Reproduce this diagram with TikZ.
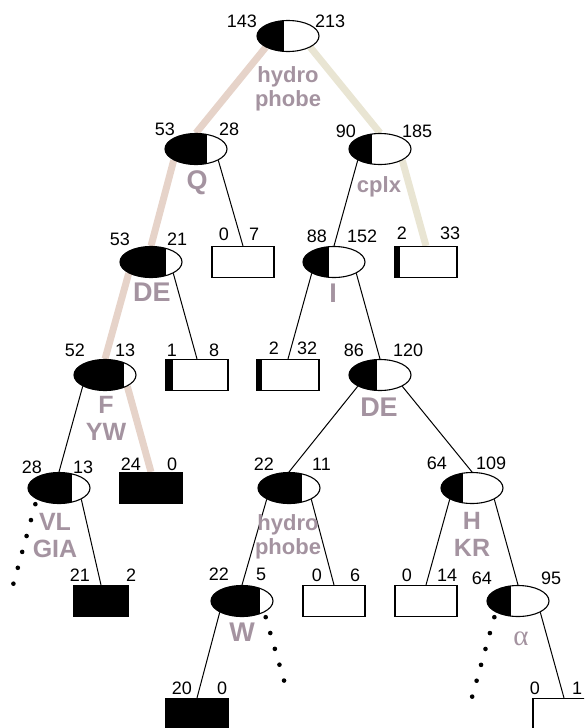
\documentclass[tikz,border=0pt]{standalone}
\usepackage{fontspec}
\setmainfont{Liberation Sans}
\newfontfamily\alphafont{Liberation Serif}
\usetikzlibrary{shapes,calc,backgrounds}
\definecolor{tagc}{RGB}{164,147,160}
\definecolor{hotl}{RGB}{230,211,201}
\definecolor{hotr}{RGB}{233,229,211}

\begin{document}
\begin{tikzpicture}[
            x=1pt, y=-1pt,
                blk/.style = {path picture={% black share of a split
                              \fill[black] (path picture bounding box.south west) rectangle
                              ($(path picture bounding box.north west)!#1!(path picture bounding box.north east)$);}},
              split/.style = {ellipse, draw, line width=1.1pt, fill=white, inner sep=0pt,
                              minimum width=62pt, minimum height=31pt, blk=#1},
               leaf/.style = {rectangle, draw, line width=1.1pt, fill=white, inner sep=0pt,
                              minimum width=62pt, minimum height=31pt, blk=#1},
               leaf/.default=0,
                cnt/.style = {font=\fontsize{18}{20}\selectfont, inner sep=0pt},
                tag/.style = {font=\bfseries\fontsize{27}{28}\selectfont, text=tagc,
                              align=center, inner sep=0pt},
               tag2/.style = {tag, font=\bfseries\fontsize{25}{27}\selectfont},
              tagsm/.style = {tag, font=\bfseries\fontsize{22}{24}\selectfont},
               link/.style = {line width=1pt},
                hot/.style = {line width=7pt, #1},
              trail/.style = {line width=4.6pt, line cap=round,
                              dash pattern=on 0pt off 16.5pt, dash phase=11.5pt},
                ]
\useasboundingbox (0,0) rectangle (584,728);
\clip (0,0) rectangle (584,728);
% splits
\node[split=.435] (root) at (288,36)  {};
\node[split=.68]  (q)    at (196,149) {};
\node[split=.37]  (cplx) at (380,149) {};
\node[split=.74]  (de1)  at (151,262) {};
\node[split=.42]  (i1)   at (334,262) {};
\node[split=.81]  (f1)   at (105,375) {};
\node[split=.45]  (de2)  at (380,375) {};
\node[split=.71]  (vl)   at (59,488)  {};
\node[split=.71]  (hy2)  at (289,488) {};
\node[split=.355] (hkr)  at (472,488) {};
\node[split=.79]  (w)    at (242,601) {};
\node[split=.39]  (al)   at (518,601) {};
% leaves
\node[leaf]      (b07)  at (243,262) {};
\node[leaf=.08]  (b233) at (426,262) {};
\node[leaf=.11]  (b18)  at (197,375) {};
\node[leaf=.08]  (b232) at (288,375) {};
\node[leaf=1]    (b240) at (151,488) {};
\node[leaf=1, minimum width=54pt] (b212) at (101,601) {};
\node[leaf]      (b06)  at (334,601) {};
\node[leaf]      (b014) at (426,601) {};
\node[leaf=1]    (b200) at (197,714) {};
\node[leaf]      (b01)  at (564,714) {};
% counts above each node
\foreach \n/\l/\dl/\r/\dr/\dy in {root/143/-31/213/27/8, q/53/-21/28/23/3,
        cplx/90/-24/185/22/5, de1/53/-21/21/16/0, b07/0/-14/7/6/-5,
        i1/88/-7/152/13/-3, b233/2/-19/33/14/-6, f1/52/-20/13/10/-2,
        b18/1/-20/8/12/-2, b232/2/-9/32/9/-4, de2/86/-16/120/13/-2,
        vl/28/-17/13/14/2, b240/24/-10/0/16/-1, hy2/22/-15/11/23/-1,
        hkr/64/-25/109/4/-2, b212/21/-11/2/25/-3, w/22/-13/5/14/-4,
        b06/0/-12/6/16/-3, b014/0/-14/14/11/-3, al/64/-26/95/23/0,
        b200/20/-5/0/20/-3, b01/0/-24/1/8/-3}
    {
    \node[cnt, anchor=base east] (\n-l) at ($(\n.north)+(\dl,\dy)$) {\l};
    \node[cnt, anchor=base west] (\n-r) at ($(\n.north)+(\dr,\dy)$) {\r};
    }
% split labels
\node[tagsm] (t-root) at (288,88.5)  {hydro\\phobe};
\node[tag]   (t-q)    at (197,182.5) {Q};
\node[tagsm] (t-cplx) at (379,187)   {cplx};
\node[tag]   (t-de1)  at (152,292)   {DE};
\node[tag]   (t-i1)   at (333,293.5) {I};
\node[tag2]  (t-f1)   at (106,418)   {F\\YW};
\node[tag]   (t-de2)  at (379,407.5) {DE};
\node[tag2]  (t-vl)   at (55,535.5)  {VL\\GIA};
\node[tagsm] (t-hy2)  at (288,537)   {hydro\\phobe};
\node[tag2]  (t-hkr)  at (472,534)   {H\\KR};
\node[tag]   (t-w)    at (242,632)   {W};
\node[tag, font=\alphafont\fontsize{29}{29}\selectfont] (t-al) at (521,639) {α};
% open ends
\coordinate (vl-x) at ($(vl.south west)+(-24,87)$);
\coordinate (w-x)  at ($(w.south east)+(24,83)$);
\coordinate (al-x) at ($(al.south west)+(-24,86)$);
\begin{scope}[on background layer]
\draw[hot=hotl] (root.south west) -- (q.north)
                (q.south west) -- (de1.north)
                (de1.south west) -- (f1.north)
                (f1.south east) -- (b240.north);
\draw[hot=hotr] (root.south east) -- (cplx.north)
                (cplx.south east) -- (b233.north);
\draw[link] (q.south east) -- (b07.north);
\draw[link] (cplx.south west) -- (i1.north);
\draw[link] (de1.south east) -- (b18.north);
\draw[link] (i1.south west) -- (b232.north);
\draw[link] (i1.south east) -- (de2.north);
\draw[link] (f1.south west) -- (vl.north);
\draw[link] (de2.south west) -- (hy2.north);
\draw[link] (de2.south east) -- (hkr.north);
\draw[link] (vl.south east) -- (b212.north);
\draw[link] (hy2.south west) -- (w.north);
\draw[link] (hy2.south east) -- (b06.north);
\draw[link] (hkr.south west) -- (b014.north);
\draw[link] (hkr.south east) -- (al.north);
\draw[link] (w.south west) -- (b200.north);
\draw[link] (al.south east) -- (b01.north);
\draw[trail] (vl.south west) -- (vl-x);
\draw[trail] (w.south east) -- (w-x);
\draw[trail] (al.south west) -- (al-x);
\end{scope}
\end{tikzpicture}
\end{document}
